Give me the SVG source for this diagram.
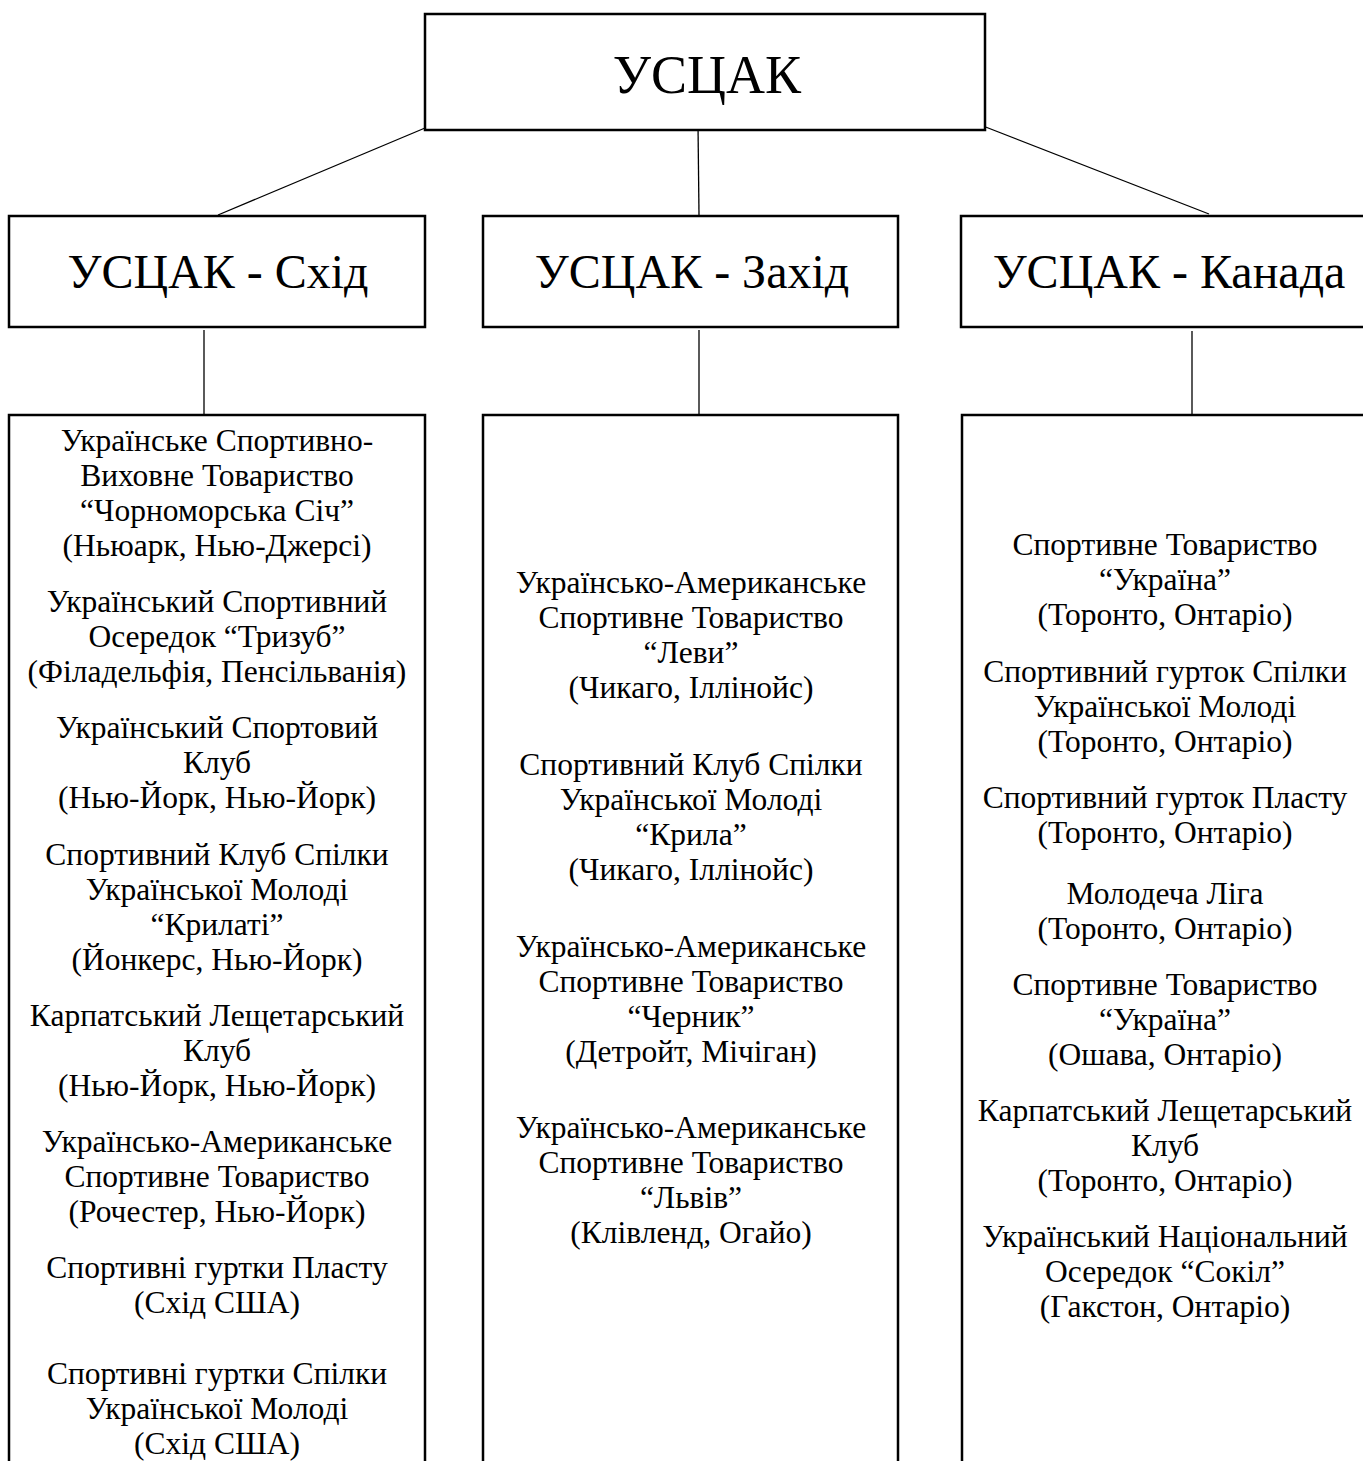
<svg xmlns="http://www.w3.org/2000/svg" width="1363" height="1461" viewBox="0 0 1363 1461">
<style>
.box{fill:#fff;stroke:#000;stroke-width:2.5}
.ln{stroke:#000;stroke-width:1.3;fill:none}
text{font-family:"Liberation Serif","Times New Roman",serif;fill:#000;text-anchor:middle}
.h1{font-size:54px}
.h2{font-size:48px}
.t{font-size:31.5px}
</style>
<rect width="1363" height="1461" fill="#fff"/>
<g id="connectors">
<line class="ln" x1="425" y1="128" x2="218" y2="215"/>
<line class="ln" x1="698" y1="125" x2="699" y2="215"/>
<line class="ln" x1="983" y1="126" x2="1209" y2="214"/>
<line class="ln" x1="204" y1="330" x2="204" y2="417"/>
<line class="ln" x1="699" y1="330" x2="699" y2="417"/>
<line class="ln" x1="1192" y1="331" x2="1192" y2="414"/>
</g>
<g id="n-usсak">
<rect class="box" x="425" y="14" width="560" height="116"/>
<text class="h1" x="707" y="93">УСЦАК</text>
</g>
<g id="n-east">
<rect class="box" x="9" y="216" width="416" height="111"/>
<text class="h2" x="218" y="288">УСЦАК - Схід</text>
</g>
<g id="n-west">
<rect class="box" x="483" y="216" width="415" height="111"/>
<text class="h2" x="692" y="288">УСЦАК - Захід</text>
</g>
<g id="n-canada">
<rect class="box" x="961" y="216" width="420" height="111"/>
<text class="h2" x="1169" y="288">УСЦАК - Канада</text>
</g>
<g id="n-east-list">
<rect class="box" x="9" y="415" width="416" height="1070"/>
<text class="t" x="217" y="451">Українське Спортивно-</text>
<text class="t" x="217" y="486">Виховне Товариство</text>
<text class="t" x="217" y="521">“Чорноморська Січ”</text>
<text class="t" x="217" y="556">(Ньюарк, Нью-Джерсі)</text>
<text class="t" x="217" y="612">Український Спортивний</text>
<text class="t" x="217" y="647">Осередок “Тризуб”</text>
<text class="t" x="217" y="682">(Філадельфія, Пенсільванія)</text>
<text class="t" x="217" y="738">Український Спортовий</text>
<text class="t" x="217" y="773">Клуб</text>
<text class="t" x="217" y="808">(Нью-Йорк, Нью-Йорк)</text>
<text class="t" x="217" y="865">Спортивний Клуб Спілки</text>
<text class="t" x="217" y="900">Української Молоді</text>
<text class="t" x="217" y="935">“Крилаті”</text>
<text class="t" x="217" y="970">(Йонкерс, Нью-Йорк)</text>
<text class="t" x="217" y="1026">Карпатський Лещетарський</text>
<text class="t" x="217" y="1061">Клуб</text>
<text class="t" x="217" y="1096">(Нью-Йорк, Нью-Йорк)</text>
<text class="t" x="217" y="1152">Українсько-Американське</text>
<text class="t" x="217" y="1187">Спортивне Товариство</text>
<text class="t" x="217" y="1222">(Рочестер, Нью-Йорк)</text>
<text class="t" x="217" y="1278">Спортивні гуртки Пласту</text>
<text class="t" x="217" y="1313">(Схід США)</text>
<text class="t" x="217" y="1384">Спортивні гуртки Спілки</text>
<text class="t" x="217" y="1419">Української Молоді</text>
<text class="t" x="217" y="1454">(Схід США)</text>
</g>
<g id="n-west-list">
<rect class="box" x="483" y="415" width="415" height="1070"/>
<text class="t" x="691" y="593">Українсько-Американське</text>
<text class="t" x="691" y="628">Спортивне Товариство</text>
<text class="t" x="691" y="663">“Леви”</text>
<text class="t" x="691" y="698">(Чикаго, Іллінойс)</text>
<text class="t" x="691" y="775">Спортивний Клуб Спілки</text>
<text class="t" x="691" y="810">Української Молоді</text>
<text class="t" x="691" y="845">“Крила”</text>
<text class="t" x="691" y="880">(Чикаго, Іллінойс)</text>
<text class="t" x="691" y="957">Українсько-Американське</text>
<text class="t" x="691" y="992">Спортивне Товариство</text>
<text class="t" x="691" y="1027">“Черник”</text>
<text class="t" x="691" y="1062">(Детройт, Мічіган)</text>
<text class="t" x="691" y="1138">Українсько-Американське</text>
<text class="t" x="691" y="1173">Спортивне Товариство</text>
<text class="t" x="691" y="1208">“Львів”</text>
<text class="t" x="691" y="1243">(Клівленд, Огайо)</text>
</g>
<g id="n-canada-list">
<rect class="box" x="962" y="415" width="420" height="1070"/>
<text class="t" x="1165" y="555">Спортивне Товариство</text>
<text class="t" x="1165" y="590">“Україна”</text>
<text class="t" x="1165" y="625">(Торонто, Онтаріо)</text>
<text class="t" x="1165" y="682">Спортивний гурток Спілки</text>
<text class="t" x="1165" y="717">Української Молоді</text>
<text class="t" x="1165" y="752">(Торонто, Онтаріо)</text>
<text class="t" x="1165" y="808">Спортивний гурток Пласту</text>
<text class="t" x="1165" y="843">(Торонто, Онтаріо)</text>
<text class="t" x="1165" y="904">Молодеча Ліга</text>
<text class="t" x="1165" y="939">(Торонто, Онтаріо)</text>
<text class="t" x="1165" y="995">Спортивне Товариство</text>
<text class="t" x="1165" y="1030">“Україна”</text>
<text class="t" x="1165" y="1065">(Ошава, Онтаріо)</text>
<text class="t" x="1165" y="1121">Карпатський Лещетарський</text>
<text class="t" x="1165" y="1156">Клуб</text>
<text class="t" x="1165" y="1191">(Торонто, Онтаріо)</text>
<text class="t" x="1165" y="1247">Український Національний</text>
<text class="t" x="1165" y="1282">Осередок “Сокіл”</text>
<text class="t" x="1165" y="1317">(Гакстон, Онтаріо)</text>
</g>
</svg>
